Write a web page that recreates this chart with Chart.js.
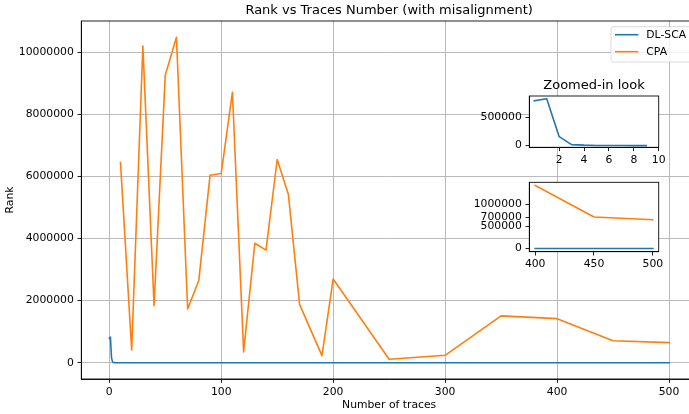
<!DOCTYPE html>
<html>
<head>
<meta charset="utf-8">
<title>Rank vs Traces Number</title>
<script src="https://cdn.jsdelivr.net/npm/chart.js@4.4.1/dist/chart.umd.min.js"></script>
<style>
  html, body { margin: 0; padding: 0; background: #fff; overflow: hidden; width: 689px; height: 414px; }
  #wrap { position: relative; width: 689px; height: 414px; overflow: hidden; }
  canvas { position: absolute; }
  #main { left: 0; top: 0; }
  #inset1 { left: 470px; top: 70px; }
  #inset2 { left: 470px; top: 170px; }
</style>
</head>
<body>
<div id="wrap">
  <canvas id="main" width="720" height="414"></canvas>
  <canvas id="inset1" width="215" height="100"></canvas>
  <canvas id="inset2" width="215" height="100"></canvas>
</div>
<script>
// --- data ---
const dlScaTraces = [0, 1, 2, 3, 4, 5, 6, 7, 8, 9,
  10, 20, 30, 40, 50, 60, 70, 80, 90, 100, 110, 120, 130, 140, 150, 160, 170, 180, 190, 200,
  250, 300, 350, 400, 450, 500];
const dlScaRank = [790000, 825000, 158000, 18000, 8000, 3000, 1500, 800, 400, 200,
  0, 0, 0, 0, 0, 0, 0, 0, 0, 0, 0, 0, 0, 0, 0, 0, 0, 0, 0, 0,
  0, 0, 0, 0, 0, 0];

const cpaTraces = [10, 20, 30, 40, 50, 60, 70, 80, 90, 100, 110, 120, 130, 140, 150, 160, 170, 180, 190, 200,
  250, 300, 350, 400, 450, 500];
const cpaRank = [6450000, 410000, 10210000, 1840000, 9270000, 10490000, 1730000, 2660000, 6040000, 6100000,
  8720000, 350000, 3850000, 3630000, 6550000, 5420000, 1880000, 1050000, 230000, 2700000,
  110000, 240000, 1510000, 1420000, 710000, 650000];

const mainXTicks = [0, 100, 200, 300, 400, 500];
const mainYTicks = [0, 2000000, 4000000, 6000000, 8000000, 10000000];
const zoom1XTicks = [2, 4, 6, 8, 10];
const zoom1YTicks = [0, 500000];
const zoom2XTicks = [400, 450, 500];
const zoom2YTicks = [0, 500000, 700000, 1000000];

const seriesNames = ['DL-SCA', 'CPA'];
const seriesColors = ['#1f77b4', '#ff7f0e'];

// --- helpers ---
const FONT = 'DejaVu Sans';
const TICK_SIZE = 10.8;
Chart.defaults.font.family = FONT;
Chart.defaults.color = '#000';

function points(xs, ys) {
  return xs.map((x, i) => ({ x: x, y: ys[i] }));
}

// matplotlib style 5% margins
function margins(lo, hi) {
  const d = (hi - lo) * 0.05;
  return [lo - d, hi + d];
}

function lineSet(i, data) {
  return {
    label: seriesNames[i],
    data: data,
    borderColor: seriesColors[i],
    backgroundColor: seriesColors[i],
    borderWidth: 1.6,
    pointRadius: 0,
    tension: 0,
    fill: false,
    borderJoinStyle: 'round',
    borderCapStyle: 'square',
    order: i === 0 ? 1 : 0
  };
}

function axis(min, max, ticks, size, withGrid) {
  return {
    type: 'linear',
    min: min,
    max: max,
    afterBuildTicks: s => { s.ticks = ticks.map(v => ({ value: v })); },
    afterFit: s => {
      if (s.isHorizontal()) s.height = size; else s.width = size;
    },
    grid: {
      display: true,
      drawOnChartArea: withGrid,
      color: '#b0b0b0',
      lineWidth: 0.87,
      drawTicks: true,
      tickLength: 3.8,
      tickColor: '#000',
      tickWidth: 0.87
    },
    border: { display: true, color: '#000', width: 0.87 },
    ticks: {
      color: '#000',
      font: { family: FONT, size: TICK_SIZE },
      padding: 3.7,
      maxRotation: 0,
      autoSkip: false,
      callback: v => String(v)
    }
  };
}

// white axes face + black frame, like an inset axes
const axesFrame = {
  id: 'axesFrame',
  beforeDraw(chart, args, opts) {
    if (!opts.fill) return;
    const a = chart.chartArea;
    chart.ctx.save();
    chart.ctx.fillStyle = '#fff';
    chart.ctx.fillRect(a.left, a.top, a.right - a.left, a.bottom - a.top);
    chart.ctx.restore();
  },
  afterDraw(chart) {
    const a = chart.chartArea;
    const ctx = chart.ctx;
    ctx.save();
    ctx.strokeStyle = '#000';
    ctx.lineWidth = 0.87;
    ctx.strokeRect(a.left, a.top, a.right - a.left, a.bottom - a.top);
    ctx.restore();
  }
};

// matplotlib-like legend in the upper right corner of the axes
const mplLegend = {
  id: 'mplLegend',
  afterDraw(chart) {
    const ctx = chart.ctx;
    const a = chart.chartArea;
    const x = a.right - 86, y = a.top + 5.7, w = 80.5, h = 35.3;
    ctx.save();
    ctx.beginPath();
    ctx.roundRect(x, y, w, h, 2.5);
    ctx.fillStyle = 'rgba(255,255,255,0.8)';
    ctx.fill();
    ctx.strokeStyle = 'rgba(204,204,204,0.8)';
    ctx.lineWidth = 0.87;
    ctx.stroke();
    chart.data.datasets.forEach((ds, i) => {
      const ly = y + 8 + i * 17;
      ctx.beginPath();
      ctx.moveTo(x + 4, ly);
      ctx.lineTo(x + 27.3, ly);
      ctx.strokeStyle = ds.borderColor;
      ctx.lineWidth = 1.6;
      ctx.stroke();
      ctx.fillStyle = '#000';
      ctx.font = TICK_SIZE + 'px "' + FONT + '"';
      ctx.textBaseline = 'middle';
      ctx.textAlign = 'left';
      ctx.fillText(ds.label, x + 35.3, ly + 0.5);
    });
    ctx.restore();
  }
};

const common = {
  responsive: false,
  animation: false,
  events: [],
  parsing: true
};

// --- main chart ---
const [mainXMin, mainXMax] = margins(0, 500);
const [mainYMin, mainYMax] = margins(0, Math.max(...cpaRank, ...dlScaRank));

const mainX = axis(mainXMin, mainXMax, mainXTicks, 35, true);
mainX.ticks.padding = 2.5;
mainX.title = { display: true, text: 'Number of traces', font: { family: FONT, size: TICK_SIZE }, color: '#000', padding: { top: 0, bottom: 2.5 } };
const mainY = axis(mainYMin, mainYMax, mainYTicks, 81.3, true);
mainY.title = { display: true, text: 'Rank', font: { family: FONT, size: TICK_SIZE }, color: '#000', padding: { top: 4, bottom: 0 } };

new Chart(document.getElementById('main'), {
  type: 'line',
  data: {
    datasets: [
      lineSet(0, points(dlScaTraces, dlScaRank)),
      lineSet(1, points(cpaTraces, cpaRank))
    ]
  },
  options: Object.assign({}, common, {
    layout: { padding: { left: 0, right: 23, top: 0, bottom: 0 } },
    scales: { x: mainX, y: mainY },
    plugins: {
      legend: { display: false },
      tooltip: { enabled: false },
      title: {
        display: true,
        text: 'Rank vs Traces Number (with misalignment)',
        fullSize: false,
        color: '#000',
        font: { family: FONT, size: 13, weight: 'normal' },
        padding: { top: 3.2, bottom: 2.2 }
      },
      axesFrame: { fill: false }
    }
  }),
  plugins: [axesFrame, mplLegend]
});

// --- inset 1: first traces of DL-SCA ---
const z1X = axis(-0.4, 10, zoom1XTicks, 22.7, false);
z1X.ticks.padding = 2.5;
const z1Y = axis(-30000, 875000, zoom1YTicks, 59.3, false);

new Chart(document.getElementById('inset1'), {
  type: 'line',
  data: {
    datasets: [lineSet(0, points(dlScaTraces.slice(0, 10), dlScaRank.slice(0, 10)))]
  },
  options: Object.assign({}, common, {
    layout: { padding: { left: 0, right: 26.3, top: 0, bottom: 0 } },
    scales: { x: z1X, y: z1Y },
    plugins: {
      legend: { display: false },
      tooltip: { enabled: false },
      title: {
        display: true,
        text: 'Zoomed-in look',
        fullSize: false,
        color: '#000',
        font: { family: FONT, size: 13, weight: 'normal' },
        padding: { top: 8, bottom: 2.4 }
      },
      axesFrame: { fill: true }
    }
  }),
  plugins: [axesFrame]
});

// --- inset 2: last traces of both ---
const tailDl = dlScaTraces.map((x, i) => i).filter(i => dlScaTraces[i] >= 400);
const tailCpa = cpaTraces.map((x, i) => i).filter(i => cpaTraces[i] >= 400);
const [z2XMin, z2XMax] = margins(400, 500);
const [z2YMin, z2YMax] = margins(0, Math.max(...tailCpa.map(i => cpaRank[i])));
const z2X = axis(z2XMin, z2XMax, zoom2XTicks, 18.3, false);
z2X.ticks.padding = 2.5;
const z2Y = axis(z2YMin, z2YMax, zoom2YTicks, 59.3, false);

new Chart(document.getElementById('inset2'), {
  type: 'line',
  data: {
    datasets: [
      lineSet(0, tailDl.map(i => ({ x: dlScaTraces[i], y: dlScaRank[i] }))),
      lineSet(1, tailCpa.map(i => ({ x: cpaTraces[i], y: cpaRank[i] })))
    ]
  },
  options: Object.assign({}, common, {
    layout: { padding: { left: 0, right: 26.3, top: 12.3, bottom: 0 } },
    scales: { x: z2X, y: z2Y },
    plugins: {
      legend: { display: false },
      tooltip: { enabled: false },
      title: { display: false },
      axesFrame: { fill: true }
    }
  }),
  plugins: [axesFrame]
});
</script>
</body>
</html>
